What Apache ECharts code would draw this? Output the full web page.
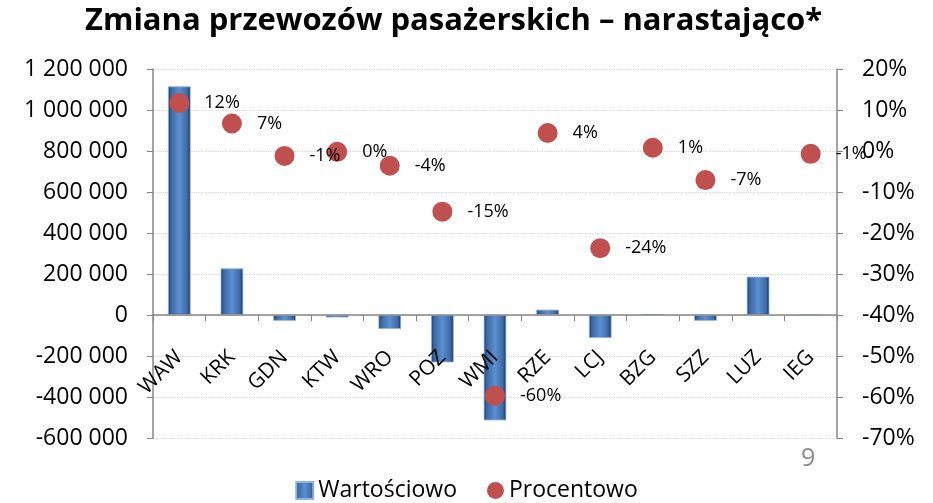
<!DOCTYPE html>
<html>
<head>
<meta charset="utf-8">
<script src="https://cdn.jsdelivr.net/npm/echarts@6/dist/echarts.min.js"></script>
<style>
  html, body { margin: 0; padding: 0; background: #fff; }
  #chart { width: 933px; height: 503px; }
</style>
</head>
<body>
<div id="chart"></div>
<script>
const airports = ['WAW', 'KRK', 'GDN', 'KTW', 'WRO', 'POZ', 'WMI', 'RZE', 'LCJ', 'BZG', 'SZZ', 'LUZ', 'IEG']
const valueChange = [1115000, 227000, -28000, -12000, -68000, -231000, -514000, 26000, -112000, 4000, -28000, 187000, 0]
const percentChange = [11.7, 6.7, -1.2, -0.2, -3.6, -14.8, -59.7, 4.4, -23.7, 0.8, -7.1, '-', -0.7]

const font = '"Open Sans", sans-serif'
const axisGrey = '#868686'

let chart = echarts.init(document.getElementById('chart'))

// bevelled blue bar look
const barFill = new echarts.graphic.LinearGradient(0, 0, 1, 0, [
  { offset: 0, color: '#1d3b66' },
  { offset: 0.15, color: '#3c6aa6' },
  { offset: 0.5, color: '#5d8fd0' },
  { offset: 0.85, color: '#3c6aa6' },
  { offset: 1, color: '#17304f' }
])

let option = {
  animation: false,
  title: {
    text: 'Zmiana przewozów pasażerskich – narastająco*',
    left: 80,
    top: 1,
    textStyle: { fontFamily: font, fontSize: 31, fontWeight: 'bold', color: '#000' }
  },
  legend: {
    bottom: -4,
    left: 'center',
    itemGap: 30,
    itemWidth: 17,
    itemHeight: 17,
    textStyle: { fontFamily: font, fontSize: 23, color: '#000' },
    data: [
      { name: 'Wartościowo', icon: 'rect' },
      { name: 'Procentowo', icon: 'circle' }
    ]
  },
  grid: { left: 153, right: 96, top: 69, bottom: 65 },
  xAxis: {
    type: 'category',
    data: airports,
    z: 3,
    axisLine: { onZero: true, onZeroAxisIndex: 0, lineStyle: { color: axisGrey, width: 1.5 } },
    axisTick: { show: true, length: 6, lineStyle: { color: axisGrey } },
    // labels sit just under the zero line, as in the original
    axisLabel: { rotate: 45, margin: -84, fontFamily: font, fontSize: 21, color: '#000' }
  },
  yAxis: [
    {
      type: 'value',
      min: -600000,
      max: 1200000,
      interval: 200000,
      axisLine: { show: true, lineStyle: { color: axisGrey, width: 1.5 } },
      axisTick: { show: true, length: 6, lineStyle: { color: axisGrey } },
      axisLabel: {
        fontFamily: font, fontSize: 23, color: '#000', margin: 25,
        formatter: v => String(v).replace(/\B(?=(\d{3})+(?!\d))/g, ' ')
      },
      splitLine: { lineStyle: { color: '#d4d4d4', type: 'dotted', width: 1.2 } }
    },
    {
      type: 'value',
      min: -70,
      max: 20,
      interval: 10,
      axisLine: { show: true, lineStyle: { color: axisGrey, width: 1.5 } },
      axisTick: { show: true, length: 6, lineStyle: { color: axisGrey } },
      axisLabel: { fontFamily: font, fontSize: 23, color: '#000', margin: 25, formatter: '{value}%' },
      splitLine: { show: false }
    }
  ],
  series: [
    {
      name: 'Wartościowo',
      type: 'bar',
      data: valueChange,
      barWidth: '43%',
      itemStyle: { color: barFill, borderColor: '#8fb3e0', borderWidth: 0.8 }
    },
    {
      name: 'Procentowo',
      type: 'scatter',
      yAxisIndex: 1,
      data: percentChange,
      symbolSize: 20,
      itemStyle: { color: '#c0504d', opacity: 1 },
      label: {
        show: true,
        position: 'right',
        distance: 15,
        fontFamily: font,
        fontSize: 18,
        color: '#000',
        formatter: p => Math.round(p.value) + '%'
      },
      z: 5
    }
  ],
  graphic: [
    {
      type: 'text',
      left: 801,
      top: 446,
      style: { text: '9', fontFamily: font, fontSize: 25, fill: '#8c8c8c' }
    }
  ]
}

chart.setOption(option)
</script>
</body>
</html>
